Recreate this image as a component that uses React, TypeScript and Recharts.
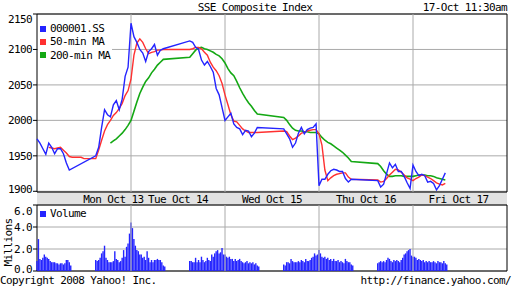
import React from "react";
import {
  ComposedChart,
  Line,
  Bar,
  XAxis,
  YAxis,
  CartesianGrid,
  ReferenceLine,
  ReferenceArea,
  Legend,
} from "recharts";

// time axis: 5-min slots, 64 slots per day (48 trading + 16 overnight)
const DAY_GRID = [64, 128, 192, 256];
const DAY_TICKS = [52, 96, 160, 224, 287];
const DAY_LABELS = ["Mon Oct 13", "Tue Oct 14", "Wed Oct 15", "Thu Oct 16", "Fri Oct 17"];
const PRICE_TICKS = [1900, 1950, 2000, 2050, 2100, 2150];
const VOL_TICKS = [0, 2, 4, 6];

// 10-min samples (index i -> slot 2*i), null = market closed
const N8 = [null, null, null, null, null, null, null, null];

const PRICE = [
  1974, 1968, 1960, 1952, 1968, 1962, 1953, 1960, 1960, 1953, 1940, 1930,
  ...N8,
  1950, 1962, 1990, 2015, 2008, 2005, 2022, 2028, 2015, 2030, 2062, 2075,
  2137, 2118, 2110, 2100, 2095, 2083, 2097, 2101, 2107, 2092, 2099, 2101,
  ...N8,
  2112, 2110, 2103, 2100, 2085, 2078, 2083, 2076, 2068, 2045, 2036, 2018,
  2000, 2005, 2010, 1995, 1990, 1988, 1980, 1986, 1985, 1977, 1982, 1990,
  ...N8,
  1988, 1981, 1974, 1962, 1968, 1982, 1990, 1981, 1987, 1989, 1990, 1995,
  1908, 1917, 1917, 1924, 1929, 1931, 1930, 1928, 1928, 1918, 1913, 1917,
  ...N8,
  1915, 1906, 1910, 1925, 1940, 1933, 1938, 1928, 1928, 1921, 1912, 1904,
  1937, 1928, 1922, 1924, 1922, 1913, 1914, 1911, 1902, 1908, 1917, 1926,
];

const MA50 = [
  null, null, null, null, 1962, 1961, 1960, 1961, 1962, 1958, 1954, 1949,
  1948, 1948, 1948, 1948, 1946, 1946, 1946, 1946,
  1946, 1958, 1972, 1985, 1994, 2000, 2007, 2011, 2017, 2024, 2035, 2042,
  2058, 2092, 2109, 2115, 2110, 2101, 2094, 2096, 2097, 2099, 2099, 2100,
  ...N8,
  2100, 2101, 2103, 2103, 2101, 2096, 2092, 2082, 2075, 2070, 2063, 2052,
  2036, 2022, 2008, 1999, 1998, 1993, 1988, 1985, 1983, 1983, 1983, 1983,
  ...N8,
  1985, 1984, 1978, 1973, 1975, 1978, 1982, 1983, 1985, 1986, 1987, 1987,
  1981, 1965, 1930, 1915, 1919, 1922, 1924, 1925, 1926, 1926, 1920, 1917,
  ...N8,
  1916, 1913, 1914, 1918, 1923, 1927, 1931, 1930, 1927, 1923, 1919, 1917,
  1915, 1918, 1920, 1923, 1922, 1920, 1918, 1915, 1912, 1910, 1909, 1911,
];

const MA200 = [
  null, null, null, null, null, null, null, null, null, null, null, null,
  ...N8,
  null, null, null, null, null, 1968, 1971, 1974, 1978, 1982, 1987, 1993,
  2000, 2013, 2026, 2038, 2047, 2055, 2060, 2067, 2072, 2078, 2082, 2086,
  ...N8,
  2089, 2094, 2099, 2102, 2103, 2101, 2100, 2098, 2096, 2093, 2091, 2087,
  2081, 2073, 2067, 2063, 2055, 2046, 2038, 2031, 2025, 2020, 2014, 2009,
  ...N8,
  2004, 2000, 1994, 1989, 1986, 1985, 1985, 1984, 1984, 1983, 1983, 1983,
  1981, 1976, 1972, 1969, 1967, 1964, 1961, 1958, 1955, 1951, 1947, 1942,
  ...N8,
  1939, 1935, 1929, 1924, 1921, 1921, 1922, 1922, 1922, 1921, 1921, 1921,
  1921, 1922, 1923, 1923, 1923, 1922, 1922, 1921, 1919, 1918, 1917, 1916,
];

// volume in millions, one bar per 5-min slot, per trading session
const SESSION_START = [0, 40, 104, 168, 232];
const VOL_S1 = [
  0.9, 2.9, 1.1, 1.0, 1.2, 1.5, 1.3, 1.2, 1.1, 0.9, 0.8, 0.8,
  0.8, 0.7, 0.7, 0.6, 0.7, 0.7, 0.6, 0.7, 1.0, 1.0, 0.8, 0.5,
];
const VOL_S2 = [
  1.0, 0.9, 1.0, 1.2, 1.6, 1.8, 2.3, 1.2, 1.0, 0.8, 0.8, 0.8,
  0.9, 1.8, 1.1, 1.0, 0.8, 0.9, 1.2, 1.9, 1.3, 2.2, 2.5, 3.4,
  4.4, 3.9, 2.9, 2.3, 1.9, 1.8, 1.5, 1.5, 1.2, 1.3, 1.0, 1.8,
  1.2, 0.8, 1.0, 0.8, 1.0, 1.0, 1.1, 1.0, 1.0, 0.8, 0.5, 0.4,
];
const VOL_S3 = [
  0.9, 0.9, 0.8, 0.8, 1.2, 0.8, 1.0, 0.8, 1.3, 1.0, 0.8, 0.9,
  1.2, 1.0, 0.9, 1.5, 1.3, 1.6, 1.8, 1.9, 1.6, 1.7, 2.1, 1.5,
  1.5, 1.3, 1.2, 1.3, 1.1, 1.1, 0.9, 1.1, 0.9, 1.0, 1.1, 0.9,
  0.8, 0.7, 0.8, 0.9, 0.7, 0.8, 0.7, 0.8, 0.6, 0.7, 0.5, 0.4,
];
const VOL_S4 = [
  0.6, 0.5, 0.8, 0.8, 0.7, 1.1, 0.9, 0.8, 0.8, 0.8, 0.9, 0.8,
  1.0, 0.9, 0.8, 1.1, 0.9, 0.9, 1.0, 1.2, 1.3, 1.6, 1.4, 1.5,
  1.9, 1.6, 1.3, 1.2, 1.3, 1.1, 1.2, 1.0, 1.1, 0.9, 1.1, 0.9,
  0.9, 1.0, 0.8, 0.9, 0.8, 0.7, 1.1, 0.9, 0.8, 0.8, 0.6, 0.5,
];
const VOL_S5 = [
  0.7, 0.8, 0.9, 0.8, 0.9, 0.8, 1.0, 1.2, 1.1, 0.9, 0.8, 1.0,
  0.9, 1.0, 0.9, 0.8, 1.0, 1.2, 1.5, 1.6, 1.8, 1.9, 2.0, 1.4,
  1.3, 1.3, 1.2, 1.0, 1.1, 1.0, 0.9, 1.0, 0.8, 0.9, 0.8, 0.9,
  0.8, 0.8, 0.9, 0.8, 0.7, 0.9, 0.8, 0.8, 0.7, 0.9, 0.7, 0.6,
];
const VOL_SESSIONS = [VOL_S1, VOL_S2, VOL_S3, VOL_S4, VOL_S5];

const BLUE = "#2424ff";
const RED = "#ff3030";
const GREEN = "#14a814";
const GRID = "#aaaaaa";
const FONT = '"DejaVu Sans Mono", monospace';
const TXT = { fontFamily: FONT, fontSize: 11, letterSpacing: "-0.6px", fill: "#000" };

const mainData = PRICE.map((p, i) => ({ t: i * 2, price: p, ma50: MA50[i], ma200: MA200[i] }));
const volData = VOL_SESSIONS.flatMap((vals, k) =>
  vals.map((v, j) => ({ t: SESSION_START[k] + j, vol: v }))
);

const MAIN_LEGEND = [
  { name: "000001.SS", color: BLUE },
  { name: "50-min MA", color: RED },
  { name: "200-min MA", color: GREEN },
];
const VOL_LEGEND = [{ name: "Volume", color: BLUE }];

function LegendBox({ items, width, padTop }: { items: { name: string; color: string }[]; width: number; padTop: number }) {
  return (
    <div
      style={{
        background: "#fff",
        width,
        paddingTop: padTop,
        fontFamily: FONT,
        fontSize: 11,
        letterSpacing: "-0.6px",
        whiteSpace: "nowrap",
        color: "#000",
      }}
    >
      {items.map((it) => (
        <div key={it.name} style={{ display: "flex", alignItems: "center", height: 13.3, lineHeight: "13.3px" }}>
          <span style={{ display: "inline-block", flex: "none", width: 6, height: 6, background: it.color, marginLeft: 2, marginRight: 4 }} />
          <span>{it.name}</span>
        </div>
      ))}
    </div>
  );
}

// labels are kept inside the plot band (top/bottom in svg coordinates)
const clampTick = (lo: number, hi: number, fmt: (v: number) => string) => (props: any) => {
  const { x, y, payload } = props;
  const ty = Math.min(Math.max(y, lo), hi);
  return (
    <text x={x} y={ty} dy={4} textAnchor="end" style={TXT}>
      {fmt(payload.value)}
    </text>
  );
};
const PriceTick = clampTick(19, 189, (v) => String(v));
const VolTick = clampTick(15.5, 73.5, (v) => v.toFixed(1));

const DayTick = (props: any) => {
  const { x, payload } = props;
  const idx = DAY_TICKS.indexOf(payload.value);
  return (
    <text x={x} y={203} textAnchor="middle" style={TXT}>
      {DAY_LABELS[idx]}
    </text>
  );
};

export default function App() {
  return (
    <div
      style={{
        position: "absolute",
        left: 0,
        top: 0,
        width: 512,
        height: 288,
        background: "#fff",
        overflow: "hidden",
        fontFamily: FONT,
        fontSize: 11,
        letterSpacing: "-0.6px",
        color: "#000",
      }}
    >
      {/* date band */}
      <div style={{ position: "absolute", left: 37, top: 192, width: 470, height: 13, background: "#e2e2e2" }} />

      <div style={{ position: "absolute", left: 0, top: 0.5, width: 510, lineHeight: "13px", textAlign: "center" }}>
        SSE Composite Index
      </div>
      <div style={{ position: "absolute", left: 0, top: 0.5, width: 507, lineHeight: "13px", textAlign: "right" }}>
        17-Oct 11:30am
      </div>

      <div style={{ position: "absolute", left: 0, top: 0 }}>
        <ComposedChart width={512} height={208} data={mainData} margin={{ top: 14, right: 5, bottom: 3, left: 0 }}>
          <CartesianGrid vertical={false} stroke={GRID} />
          {DAY_GRID.map((d) => (
            <ReferenceLine key={d} x={d} stroke={GRID} />
          ))}
          <XAxis
            dataKey="t"
            type="number"
            domain={[0, 320]}
            ticks={DAY_TICKS}
            interval={0}
            axisLine={false}
            tickLine={false}
            tickSize={0}
            height={13}
            tick={<DayTick />}
          />
          <YAxis
            type="number"
            domain={[1899, 2150]}
            allowDataOverflow
            ticks={PRICE_TICKS}
            interval={0}
            width={37}
            axisLine={false}
            tickLine={{ stroke: "#000" }}
            tickSize={4}
            tickMargin={1}
            tick={<PriceTick />}
          />
          <Line type="linear" dataKey="ma200" stroke={GREEN} strokeWidth={1.6} dot={false} activeDot={false} connectNulls isAnimationActive={false} />
          <Line type="linear" dataKey="ma50" stroke={RED} strokeWidth={1.4} dot={false} activeDot={false} connectNulls isAnimationActive={false} />
          <Line type="linear" dataKey="price" stroke={BLUE} strokeWidth={1.4} dot={false} activeDot={false} connectNulls isAnimationActive={false} />
          <ReferenceArea x1={0} x2={320} y1={1899} y2={2150} fill="none" fillOpacity={0} stroke="#000" strokeWidth={1} />
          <Legend
            layout="vertical"
            align="center"
            verticalAlign="middle"
            wrapperStyle={{ left: 38, top: 15, width: "auto", height: "auto" }}
            content={() => <LegendBox items={MAIN_LEGEND} width={74} padTop={7} />}
          />
        </ComposedChart>
      </div>

      <div style={{ position: "absolute", left: 0, top: 195 }}>
        <ComposedChart width={512} height={80} data={volData} margin={{ top: 10, right: 5, bottom: 4, left: 0 }}>
          <CartesianGrid vertical={false} stroke={GRID} />
          {DAY_GRID.map((d) => (
            <ReferenceLine key={d} x={d} stroke={GRID} />
          ))}
          <XAxis dataKey="t" type="number" domain={[0, 320]} hide />
          <YAxis
            type="number"
            domain={[0, 6]}
            allowDataOverflow
            ticks={VOL_TICKS}
            interval={0}
            width={37}
            axisLine={false}
            tickLine={{ stroke: "#000" }}
            tickSize={4}
            tickMargin={1}
            tick={<VolTick />}
          />
          <Bar dataKey="vol" fill={BLUE} barSize={1.4} isAnimationActive={false} />
          <ReferenceArea x1={0} x2={320} y1={0} y2={6} fill="none" fillOpacity={0} stroke="#000" strokeWidth={1} />
          <Legend
            layout="vertical"
            align="center"
            verticalAlign="middle"
            wrapperStyle={{ left: 38, top: 11, width: "auto", height: "auto" }}
            content={() => <LegendBox items={VOL_LEGEND} width={50} padTop={1.4} />}
          />
        </ComposedChart>
      </div>

      <div
        style={{
          position: "absolute",
          left: -17.5,
          top: 235.5,
          width: 50,
          height: 13,
          lineHeight: "13px",
          textAlign: "center",
          transform: "rotate(-90deg)",
        }}
      >
        Millions
      </div>

      <div style={{ position: "absolute", left: 0, top: 274, lineHeight: "13px" }}>Copyright 2008 Yahoo! Inc.</div>
      <div style={{ position: "absolute", left: 0, top: 274, width: 511, lineHeight: "13px", textAlign: "right" }}>
        http://finance.yahoo.com/
      </div>
    </div>
  );
}
